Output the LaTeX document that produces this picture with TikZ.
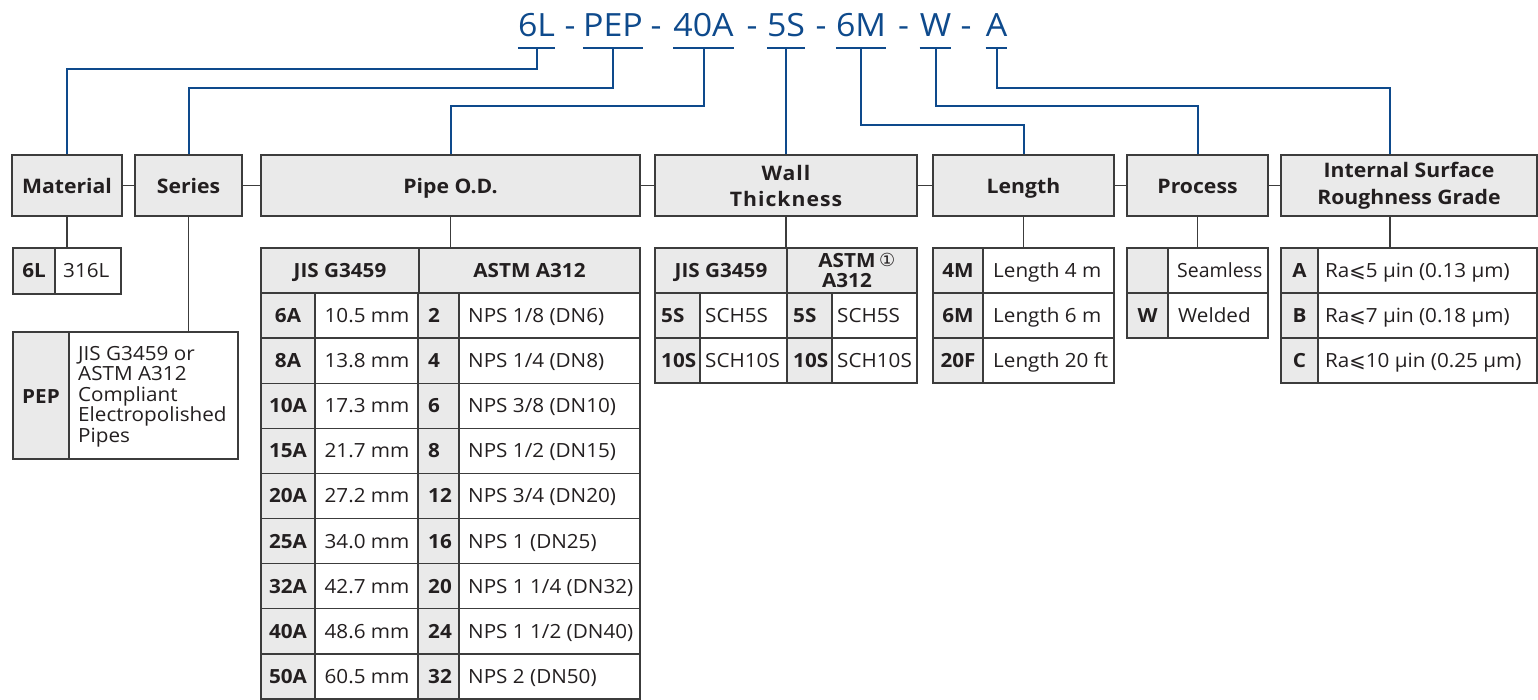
\documentclass[tikz,border=0pt]{standalone}
\usepackage{fontspec}
\setmainfont{Open Sans}[FakeStretch=1.06]
\newfontfamily\plainos{Open Sans}
\newfontfamily\symfont{DejaVu Sans}
\definecolor{codeblue}{HTML}{0E4A8C}
\definecolor{boxgray}{HTML}{EAEAEA}
\definecolor{edge}{HTML}{3C3C3C}
\definecolor{ink}{HTML}{231F20}
\newcommand\tcell[6]{\node[#1, minimum width={#4-#2}, minimum height={#5-#3}] (#6) at ({(#2+#4)/2},{(#3+#5)/2}) {};}
\newcommand\myleq{{\symfont ⩽}}
\tikzset{
  hdr/.style={draw=edge, fill=boxgray, line width=1.4pt, inner sep=0pt},
  gcell/.style={draw=edge, fill=boxgray, line width=1.4pt, inner sep=0pt},
  wcell/.style={draw=edge, fill=white, line width=1.4pt, inner sep=0pt},
  txt/.style={text=ink, inner sep=0pt, font=\fontsize{19.5}{22}\selectfont},
  btxt/.style={text=ink, inner sep=0pt, font=\fontsize{19.5}{22}\selectfont\bfseries},
  htxt/.style={text=ink, inner sep=0pt, anchor=base, font=\fontsize{20}{24}\selectfont\bfseries},
  codetxt/.style={text=codeblue, anchor=base, inner xsep=0pt, inner ysep=11pt, text depth=0pt, font=\fontsize{32}{36}\selectfont},
  blueline/.style={draw=codeblue, line width=2pt},
  grayline/.style={draw=edge, line width=1.4pt},
}
\begin{document}
\begin{tikzpicture}[x=1pt,y=-1pt]
\useasboundingbox (0,0) rectangle (1538,700);
\path[fill=white] (0,0) rectangle (1538,700);

% ---- model code ----
\node[codetxt] (c6L) at (536.5,37) {6L};
\node[codetxt] (cPEP) at (613,37) {PEP};
\node[codetxt] (c40A) at (703.5,37) {40A};
\node[codetxt] (c5S) at (786,37) {5S};
\node[codetxt] (c6M) at (861,37) {6M};
\node[codetxt] (cW) at (935.5,37) {W};
\node[codetxt] (cA) at (996.5,37) {A};
\node[codetxt] (d1) at (570,37) {-};
\node[codetxt] (d2) at (656,37) {-};
\node[codetxt] (d3) at (752,37) {-};
\node[codetxt] (d4) at (821,37) {-};
\node[codetxt] (d5) at (903.5,37) {-};
\node[codetxt] (d6) at (966,37) {-};
\foreach \n in {c6L,cPEP,c40A,c5S,c6M,cW,cA}
  \draw[blueline] (\n.south west) -- (\n.south east);

% ---- header boxes ----
\node[hdr, minimum width=110, minimum height=61] (mat) at (67,185.5) {};
\node[hdr, minimum width=107, minimum height=61] (ser) at (188.5,185.5) {};
\node[hdr, minimum width=379, minimum height=61] (pipe) at (450.5,185.5) {};
\node[hdr, minimum width=262, minimum height=61] (wall) at (786,185.5) {};
\node[hdr, minimum width=181, minimum height=61] (len) at (1023.5,185.5) {};
\node[hdr, minimum width=141, minimum height=61] (proc) at (1197.5,185.5) {};
\node[hdr, minimum width=256, minimum height=61] (is) at (1409,185.5) {};

\node[htxt] (matT) at (67,193.5) {Material};
\node[htxt] (serT) at (188.5,193.5) {Series};
\node[htxt] (pipeT) at (450.5,193.5) {Pipe O.D.};
\node[htxt, font=\fontsize{20}{24}\selectfont\bfseries\addfontfeatures{LetterSpace=5}] (wallT1) at (786,181) {Wall};
\node[htxt, font=\fontsize{20}{24}\selectfont\bfseries\addfontfeatures{LetterSpace=5}] (wallT2) at (786,207) {Thickness};
\node[htxt] (lenT) at (1023.5,193.5) {Length};
\node[htxt] (procT) at (1197.5,193.5) {Process};
\node[htxt] (isT1) at (1409,178) {Internal Surface};
\node[htxt] (isT2) at (1409,205) {Roughness Grade};

\draw[grayline] (mat.east) -- (ser.west);
\draw[grayline] (ser.east) -- (pipe.west);
\draw[grayline] (pipe.east) -- (wall.west);
\draw[grayline] (wall.east) -- (len.west);
\draw[grayline] (len.east) -- (proc.west);
\draw[grayline] (proc.east) -- (is.west);

% ---- blue connectors ----
\draw[blueline] (c6L.south) -- ++(0,21) -| (mat.north);
\draw[blueline] (cPEP.south) -- ++(0,40) -| (ser.north);
\draw[blueline] (c40A.south) -- ++(0,58) -| (pipe.north);
\draw[blueline] (c5S.south) -- (c5S.south |- wall.north);
\draw[blueline] (c6M.south) -- ++(0,77) -| (len.north);
\draw[blueline] (cW.south) -- ++(0,58) -| (proc.north);
\draw[blueline] (cA.south) -- ++(0,40) -| ([xshift=-19pt]is.north);

% ---- Material table ----
\tcell{gcell}{13}{248}{55}{294}{m1}
\tcell{wcell}{55}{248}{121}{294}{m2}
\node[btxt, anchor=base] (m1t) at (34,278) {6L};
\node[txt, anchor=base west] (m2t) at (63,278) {316L};
\draw[grayline] (mat.south) -- (mat.south |- m2.north);

% ---- Series table ----
\tcell{gcell}{13}{332}{69}{459}{s1}
\tcell{wcell}{69}{332}{238}{459}{s2}
\node[btxt, anchor=base] (s1t) at (41,403) {PEP};
\foreach \t [count=\i from 0] in {JIS G3459 or,ASTM A312,Compliant,Electropolished,Pipes}
  \node[txt, anchor=base west] (s2t\i) at (78,{360+20.5*\i}) {\t};
\draw[grayline] (ser.south) -- (ser.south |- s2.north);

% ---- Pipe O.D. table ----
\tcell{gcell}{261}{248}{419}{293}{ph1}
\tcell{gcell}{419}{248}{640}{293}{ph2}
\node[btxt, anchor=base] (ph1t) at (340,277.5) {JIS G3459};
\node[btxt, anchor=base] (ph2t) at (529.5,277.5) {ASTM A312};
\foreach \code/\mm/\num/\nps [count=\i from 0] in {
  6A/10.5 mm/2/NPS 1\slash 8 (DN6),
  8A/13.8 mm/4/NPS 1\slash 4 (DN8),
  10A/17.3 mm/6/NPS 3\slash 8 (DN10),
  15A/21.7 mm/8/NPS 1\slash 2 (DN15),
  20A/27.2 mm/12/NPS 3\slash 4 (DN20),
  25A/34.0 mm/16/NPS 1 (DN25),
  32A/42.7 mm/20/NPS 1 1\slash 4 (DN32),
  40A/48.6 mm/24/NPS 1 1\slash 2 (DN40),
  50A/60.5 mm/32/NPS 2 (DN50)}{
  \pgfmathsetmacro\ya{293+45.11*\i}
  \pgfmathsetmacro\yb{\ya+45.11}
  \pgfmathsetmacro\yc{\ya+29.5}
  \tcell{gcell}{261}{\ya}{315}{\yb}{pa\i}
  \tcell{wcell}{315}{\ya}{418}{\yb}{pb\i}
  \tcell{gcell}{418}{\ya}{459}{\yb}{pc\i}
  \tcell{wcell}{459}{\ya}{640}{\yb}{pd\i}
  \node[btxt, anchor=base] (pat\i) at (288,\yc) {\code};
  \node[txt, anchor=base] (pbt\i) at (367,\yc) {\mm};
  \node[btxt, anchor=base west] (pct\i) at (428,\yc) {\num};
  \node[txt, anchor=base west] (pdt\i) at (468,\yc) {\nps};
}
\draw[grayline] (pipe.south) -- (pipe.south |- ph2.north);

% ---- Wall thickness table ----
\tcell{gcell}{655}{248}{787}{293}{wh1}
\tcell{gcell}{787}{248}{917}{293}{wh2}
\node[btxt, anchor=base] (wh1t) at (721,277.5) {JIS G3459};
\node[btxt, anchor=base] (wh2t) at (847,268) {ASTM};
\node[text=ink, inner sep=0pt, anchor=base west, font=\symfont\fontsize{18}{20}\selectfont] (wh2n) at (879,266.5) {①};
\node[btxt, anchor=base] (wh2u) at (847,288) {A312};
\foreach \c/\s [count=\i from 0] in {5S/SCH5S,10S/SCH10S}{
  \pgfmathsetmacro\ya{293+45*\i}
  \pgfmathsetmacro\yb{\ya+45}
  \pgfmathsetmacro\yc{\ya+29.5}
  \tcell{gcell}{655}{\ya}{700}{\yb}{wa\i}
  \tcell{wcell}{700}{\ya}{787}{\yb}{wb\i}
  \tcell{gcell}{787}{\ya}{832}{\yb}{wc\i}
  \tcell{wcell}{832}{\ya}{917}{\yb}{wd\i}
  \node[btxt, anchor=base west] (wat\i) at (661,\yc) {\c};
  \node[txt, anchor=base west] (wbt\i) at (705,\yc) {\s};
  \node[btxt, anchor=base west] (wct\i) at (793,\yc) {\c};
  \node[txt, anchor=base west] (wdt\i) at (837,\yc) {\s};
}
\draw[grayline] (wall.south) -- (wall.south |- wh2.north);

% ---- Length table ----
\foreach \c/\s [count=\i from 0] in {4M/Length 4 m,6M/Length 6 m,20F/Length 20 ft}{
  \pgfmathsetmacro\ya{248+45*\i}
  \pgfmathsetmacro\yb{\ya+45}
  \pgfmathsetmacro\yc{\ya+29.5}
  \tcell{gcell}{933}{\ya}{983}{\yb}{la\i}
  \tcell{wcell}{983}{\ya}{1114}{\yb}{lb\i}
  \node[btxt, anchor=base] (lat\i) at (958,\yc) {\c};
  \node[txt, anchor=base west] (lbt\i) at (993,\yc) {\s};
}
\draw[grayline] (len.south) -- (len.south |- lb0.north);

% ---- Process table ----
\tcell{gcell}{1127}{248}{1168}{293}{pr1}
\tcell{wcell}{1168}{248}{1268}{293}{pr2}
\tcell{gcell}{1127}{293}{1168}{338}{pr3}
\tcell{wcell}{1168}{293}{1268}{338}{pr4}
\node[txt, anchor=base west, font=\plainos\fontsize{19.5}{22}\selectfont] (pr2t) at (1177,277.5) {Seamless};
\node[btxt, anchor=base] (pr3t) at (1147.5,322.5) {W};
\node[txt, anchor=base west] (pr4t) at (1178,322.5) {Welded};
\draw[grayline] (proc.south) -- (proc.south |- pr2.north);

% ---- Surface roughness table ----
\foreach \c/\s [count=\i from 0] in {A/Ra\myleq5 µin (0.13 µm),B/Ra\myleq7 µin (0.18 µm),C/Ra\myleq10 µin (0.25 µm)}{
  \pgfmathsetmacro\ya{248+45*\i}
  \pgfmathsetmacro\yb{\ya+45}
  \pgfmathsetmacro\yc{\ya+29.5}
  \tcell{gcell}{1281}{\ya}{1318}{\yb}{ra\i}
  \tcell{wcell}{1318}{\ya}{1537}{\yb}{rb\i}
  \node[btxt, anchor=base] (rat\i) at (1299.5,\yc) {\c};
  \node[txt, anchor=base west] (rbt\i) at (1325,\yc) {\s};
}
\draw[grayline] ([xshift=-19pt]is.south) -- ([xshift=-19pt]is.south |- rb0.north);
\end{tikzpicture}
\end{document}
